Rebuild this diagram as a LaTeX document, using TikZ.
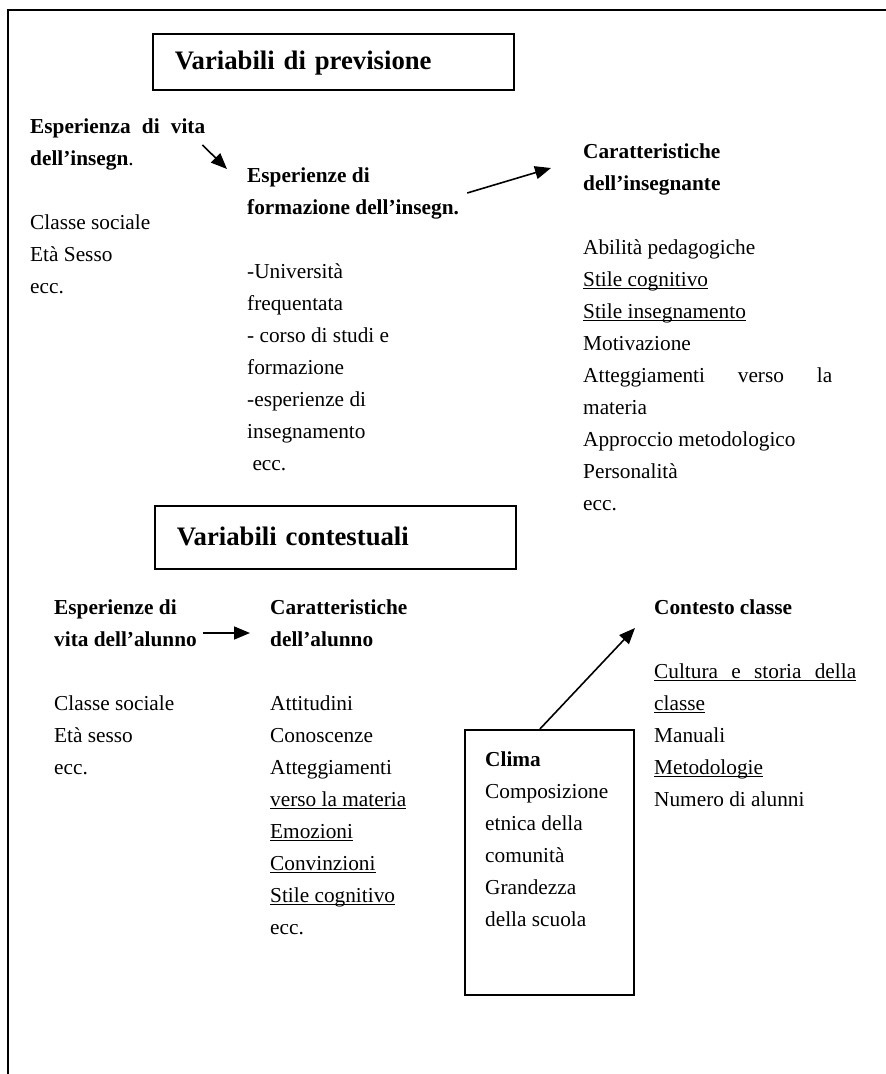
\documentclass[tikz,border=0pt]{standalone}
\usepackage{fontspec}
\setmainfont{Liberation Serif}
\usetikzlibrary{arrows.meta,calc}
\newcommand\ulin[1]{\setbox0\hbox{#1}\rlap{\rule[-2.6pt]{\wd0}{1.1pt}}\box0}
\tikzset{
  ttl/.style={draw,line width=1.8pt,anchor=north west,align=left,
              font=\fontsize{26.7}{30}\selectfont\bfseries,inner xsep=22pt,
              text width=317pt,text height=20pt,text depth=4pt},
  txt/.style={anchor=north west,align=left,inner sep=0pt,
              font=\fontsize{21.3}{32}\selectfont},
  clbox/.style={draw,line width=1.8pt,anchor=north west,minimum width=169pt,
              minimum height=265pt,inner sep=0pt},
  ar/.style ={-{Triangle[length=16pt,width=13pt]},line width=1.6pt},
  frm/.style={line width=2pt},
}
\begin{document}
\begin{tikzpicture}[x=1pt,y=-1pt]
  \useasboundingbox (0,0) rectangle (886,1074);
  \draw[frm] (886,10) -- (8,10) -- (8,1074);
  \node[ttl,minimum height=56pt] (vp) at (152,33) {Variabili di previsione};
  \node[txt] (vi) at (30,110.6) {\strut\textbf{\makebox[175pt][s]{Esperienza di vita}}\\
        \textbf{dell’insegn}.\\[32pt]Classe sociale\\Età Sesso\\ecc.};
  \node[txt] (fi) at (247,159.6) {\strut\textbf{Esperienze di}\\\textbf{formazione dell’insegn.}\\[32pt]
        -Università\\frequentata\\- corso di studi e\\formazione\\-esperienze di\\
        insegnamento\\\ ecc.};
  \node[txt] (ci) at (583,135.6) {\strut\textbf{Caratteristiche}\\\textbf{dell’insegnante}\\[32pt]
        Abilità pedagogiche\\\ulin{Stile cognitivo}\\\ulin{Stile insegnamento}\\Motivazione\\
        \makebox[249pt][s]{Atteggiamenti verso la}\\materia\\Approccio metodologico\\
        Personalità\\ecc.};
  \node[ttl,minimum height=63pt] (vc) at (154,505) {Variabili contestuali};
  \node[txt] (va) at (54,591.6) {\strut\textbf{Esperienze di}\\\textbf{vita dell’alunno}\\[32pt]
        Classe sociale\\Età sesso\\ecc.};
  \node[txt] (ca) at (270,591.6) {\strut\textbf{Caratteristiche}\\\textbf{dell’alunno}\\[32pt]
        Attitudini\\Conoscenze\\Atteggiamenti\\\ulin{verso la materia}\\\ulin{Emozioni}\\
        \ulin{Convinzioni}\\\ulin{Stile cognitivo}\\ecc.};
  \node[txt] (cc) at (654,591.6) {\strut\textbf{Contesto classe}\\[32pt]
        \ulin{\makebox[202pt][s]{Cultura e storia della}}\\\ulin{classe}\\Manuali\\
        \ulin{Metodologie}\\Numero di alunni};
  \node[clbox] (cl) at (464,729) {};
  \node[txt] (clt) at (485,743.6) {\strut\textbf{Clima}\\Composizione\\etnica della\\comunità\\
        Grandezza\\della scuola};
  \draw[ar] ($(vi.north east)+(-3,34.4)$) -- ($(fi.north west)+(-20,9.4)$);
  \draw[ar] ($(fi.north east)+(8,33.4)$) -- ($(ci.north west)+(-32,32.4)$);
  \draw[ar] ($(va.north east)+(6,41.4)$) -- ($(ca.north west)+(-20,41.4)$);
  \draw[ar] ($(cl.north)+(-9.5,0)$) -- ($(cc.north west)+(-19,36.4)$);
\end{tikzpicture}
\end{document}
